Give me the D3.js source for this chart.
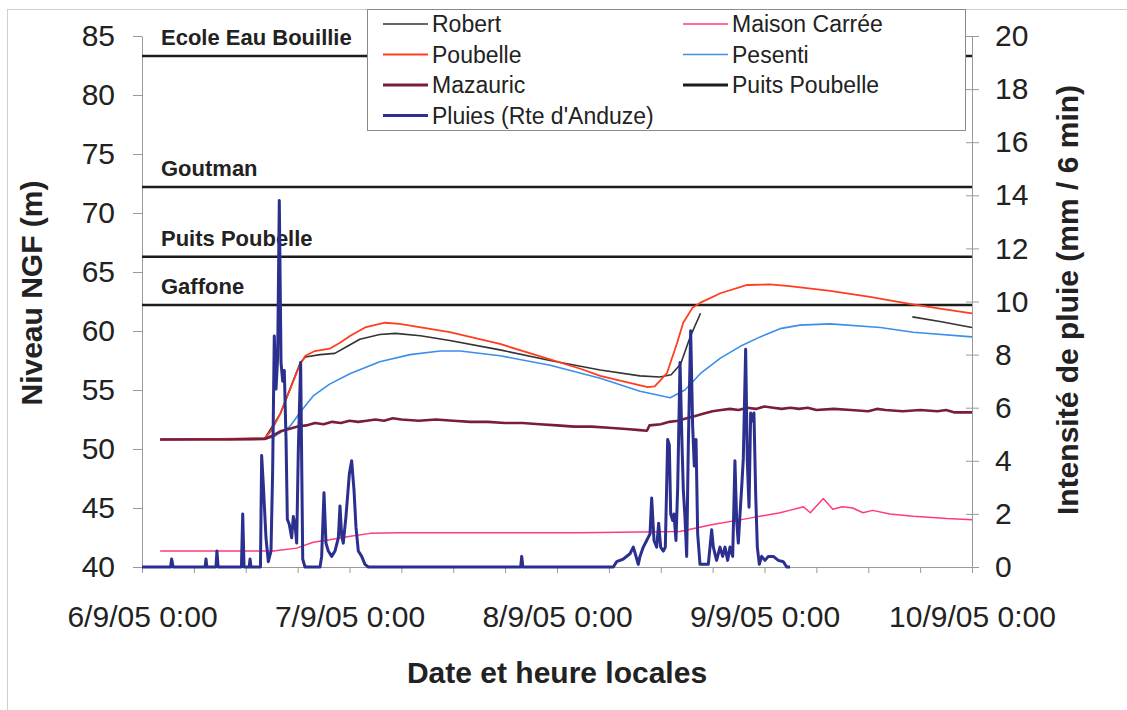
<!DOCTYPE html>
<html>
<head>
<meta charset="utf-8">
<script src="https://cdn.jsdelivr.net/npm/d3@7"></script>
<style>
	body { margin: 0; background: #fff; }
	svg { display: block; font-family: Arial, "Liberation Sans", sans-serif; }
</style>
</head>
<body>
<script>
// time is given in hours after 6/9/05 0:00
const startDate = new Date(2005, 8, 6, 0, 0);
const endDate = new Date(2005, 8, 10, 0, 0);

const leftTicks = [40, 45, 50, 55, 60, 65, 70, 75, 80, 85];
const rightTicks = [0, 2, 4, 6, 8, 10, 12, 14, 16, 18, 20];

const levelNames = ["Ecole Eau Bouillie", "Goutman", "Puits Poubelle", "Gaffone"];
const levelValues = [83.3, 72.2, 66.3, 62.2];

const robert = [
	[2.1, 50.8], [14.2, 50.9], [16, 53.0], [18.3, 57.3], [18.9, 57.8], [20.6, 58.0],
	[22.3, 58.1], [23.5, 58.6], [25.2, 59.3], [27.5, 59.7], [29.3, 59.8], [32.2, 59.6],
	[35.6, 59.2], [41.4, 58.4], [47.2, 57.5], [53, 56.7], [57.6, 56.2], [59.9, 56.1],
	[61.2, 56.3], [62.3, 57.2], [63.4, 59.5], [64.6, 61.5],
];
const robertEnd = [[89.1, 61.2], [92.3, 60.8], [96, 60.3]];

const poubelle = [
	[2.1, 50.8], [14.2, 50.9], [15, 51.6], [16, 53.0], [17.1, 55.0], [18.3, 57.2],
	[18.9, 57.9], [20, 58.3], [21.7, 58.5], [22.9, 59.0], [24.1, 59.6], [25.8, 60.3],
	[28.1, 60.7], [29.8, 60.6], [35.6, 59.9], [41.4, 58.9], [47.2, 57.6], [50.7, 56.8],
	[53, 56.2], [56.4, 55.6], [58.5, 55.25], [59.3, 55.3], [60.7, 56.4], [61.9, 59.0],
	[62.6, 60.7], [63.7, 62.0], [64.6, 62.4], [66.9, 63.2], [70, 63.9], [72.6, 63.95],
	[74.9, 63.8], [79.6, 63.4], [84.2, 62.9], [88.8, 62.3], [92.3, 61.9], [96, 61.5],
];

const mazauric = [
	[2.1, 50.8], [6, 50.8], [10, 50.8], [14.2, 50.85], [15, 51.1], [16, 51.5], [17, 51.7],
	[18, 51.9], [19, 52.0], [20, 52.2], [21, 52.1], [22, 52.3], [23, 52.2], [24, 52.4],
	[25, 52.3], [26, 52.4], [27, 52.5], [28, 52.4], [29, 52.6], [30, 52.5], [32, 52.4],
	[34, 52.5], [36, 52.4], [38, 52.3], [40, 52.3], [42, 52.2], [44, 52.2], [46, 52.1],
	[48, 52.0], [50, 51.9], [52, 51.9], [54, 51.8], [56, 51.7], [57.6, 51.6], [58.4, 51.55],
	[58.7, 52.0], [60, 52.1], [61, 52.3], [62, 52.4], [63, 52.6], [64, 52.8], [65, 53.0],
	[66, 53.2], [67, 53.3], [68, 53.4], [69, 53.3], [70, 53.5], [71, 53.4], [72, 53.6],
	[73, 53.5], [74, 53.4], [75, 53.5], [76, 53.4], [77, 53.5], [78, 53.3], [80, 53.4],
	[82, 53.3], [84, 53.2], [85, 53.4], [86, 53.3], [88, 53.2], [90, 53.3], [92, 53.2],
	[93, 53.3], [94, 53.1], [96, 53.1],
];

const maisonCarree = [
	[2.1, 41.35], [15.2, 41.35], [17.9, 41.6], [19.8, 42.1], [21.7, 42.3], [24.1, 42.6],
	[26.4, 42.85], [29.8, 42.9], [35.6, 42.9], [50.7, 42.9], [62.2, 43.0], [66, 43.6],
	[70, 44.1], [73.8, 44.6], [74.9, 44.8], [76.5, 45.1], [77.3, 44.6], [78.8, 45.8],
	[79.9, 44.9], [81, 45.1], [82.2, 45.0], [83.4, 44.6], [84.5, 44.8], [86.5, 44.5],
	[89.2, 44.3], [93.1, 44.1], [96, 44.0],
];

const pesenti = [
	[2.1, 50.8], [14.2, 50.85], [15.15, 51.0], [17.1, 51.9], [18.5, 53.3], [19.8, 54.5],
	[21.7, 55.5], [24.1, 56.4], [27.5, 57.4], [31, 58.0], [34.5, 58.3], [36.8, 58.3],
	[41.4, 57.9], [47.2, 57.1], [53, 56.0], [57.6, 54.9], [61.1, 54.35], [62.8, 55.0],
	[64.6, 56.4], [66.9, 57.7], [69.2, 58.7], [71.5, 59.5], [73.8, 60.2], [76.1, 60.5],
	[79.6, 60.6], [85.4, 60.3], [89.2, 59.9], [96, 59.5],
];

const pluies = [
	[0, 0], [3.3, 0], [3.43, 0.3], [3.6, 0], [7.3, 0], [7.4, 0.3], [7.5, 0], [8.55, 0],
	[8.67, 0.6], [8.8, 0], [11.5, 0], [11.65, 2.0], [11.8, 0], [12.4, 0], [12.5, 0.3],
	[12.6, 0], [13.7, 0], [13.84, 4.2], [14.03, 3.1], [14.34, 1.1], [14.61, 0.2],
	[14.92, 0.6], [15.11, 3.6], [15.3, 8.7], [15.5, 6.7], [15.69, 7.9], [15.88, 13.8],
	[16.08, 7.7], [16.27, 7.0], [16.46, 7.4], [16.66, 4.8], [16.81, 1.8], [17.04, 1.6],
	[17.31, 1.1], [17.5, 1.9], [17.7, 1.6], [17.89, 0.9], [18.08, 4.4], [18.35, 7.7],
	[18.59, 0.3], [18.85, 0], [20.59, 0], [20.78, 0.4], [21.05, 2.8], [21.28, 0.9],
	[21.55, 0.6], [21.94, 0.4], [22.32, 0.6], [22.71, 1.1], [22.9, 2.3], [23.09, 1.2],
	[23.28, 0.9], [23.59, 1.9], [23.98, 3.5], [24.25, 4.0], [24.52, 2.9], [24.75, 1.5],
	[25.02, 0.6], [25.41, 0.4], [25.79, 0.1], [26.18, 0], [43.8, 0], [43.92, 0.4],
	[44.05, 0], [54.51, 0], [54.9, 0.2], [55.67, 0.3], [56.44, 0.5], [56.83, 0.75],
	[57.14, 0.4], [57.4, 0.1], [57.6, 0.4], [57.98, 0.75], [58.37, 1.0], [58.76, 1.25],
	[58.95, 2.6], [59.22, 1.0], [59.53, 0.75], [59.76, 1.65], [59.99, 0.75], [60.3, 0.6],
	[60.53, 0.75], [60.8, 4.8], [60.99, 4.6], [61.15, 2.0], [61.38, 1.75], [61.53, 2.0],
	[61.76, 1.0], [61.96, 3.0], [62.23, 7.7], [62.46, 4.6], [62.61, 2.9], [62.8, 1.9],
	[63.0, 0.4], [63.19, 4.6], [63.46, 8.9], [63.69, 5.3], [63.88, 3.8], [64.08, 4.8],
	[64.27, 1.25], [64.54, 0.1], [65.5, 0.1], [65.89, 1.4], [66.08, 0.75], [66.46, 0.25],
	[66.85, 0.75], [67.16, 0.4], [67.43, 0.75], [67.74, 0.25], [68.01, 0.75], [68.32, 0.4],
	[68.58, 4.0], [68.78, 1.75], [68.97, 0.9], [69.17, 2.0], [69.36, 3.0], [69.55, 4.1],
	[69.82, 8.2], [70.01, 4.0], [70.21, 2.25], [70.4, 5.8], [70.59, 5.5], [70.78, 5.8],
	[70.98, 2.75], [71.17, 0.75], [71.4, 0.1], [71.67, 0.4], [72.06, 0.25], [72.44, 0.4],
	[73.02, 0.4], [73.6, 0.25], [74.18, 0.2], [74.57, 0], [74.95, 0],
];

const legendNames = [
	"Robert", "Poubelle", "Mazauric", "Pluies (Rte d'Anduze)",
	"Maison Carrée", "Pesenti", "Puits Poubelle",
];

render();

function render() {
	const colors = {
		robert: "#333333",
		poubelle: "#ff3d1f",
		mazauric: "#7a1d3b",
		pluies: "#2b2f8e",
		maison: "#ff3a7c",
		pesenti: "#3a8fe8",
		level: "#1c1c1c",
		axis: "#9a9a9a",
		text: "#222222",
	};
	const plot = { left: 142, right: 972, top: 36, bottom: 567 };
	const toDate = (h) => new Date(startDate.getTime() + h * 3600 * 1000);

	const svg = d3
		.select("body")
		.append("svg")
		.attr("width", 1127)
		.attr("height", 710);

	svg.append("rect")
		.attr("width", 1127)
		.attr("height", 710)
		.attr("fill", "#fff");

	// light outer frame of the chart
	svg.append("rect")
		.attr("x", 7.5)
		.attr("y", 9.5)
		.attr("width", 1300)
		.attr("height", 900)
		.attr("fill", "none")
		.attr("stroke", "#cfcfcf");

	// Scales
	const x = d3.scaleTime().domain([startDate, endDate]).range([plot.left, plot.right]);
	const yLeft = d3.scaleLinear().domain([40, 85]).range([plot.bottom, plot.top]);
	const yRight = d3.scaleLinear().domain([0, 20]).range([plot.bottom, plot.top]);

	// Axes
	const fmt = d3.timeFormat("%-d/%-m/%y %-H:%M");
	const xAxis = svg
		.append("g")
		.attr("transform", `translate(0,${plot.bottom})`)
		.call(
			d3.axisBottom(x)
				.ticks(d3.timeHour.every(6))
				.tickSize(6)
				.tickSizeOuter(0)
				.tickPadding(33)
				.tickFormat((d) => (d.getHours() === 0 ? fmt(d) : ""))
		);

	const leftAxis = svg
		.append("g")
		.attr("transform", `translate(${plot.left},0)`)
		.call(d3.axisLeft(yLeft).tickValues(leftTicks).tickSize(9).tickSizeOuter(0).tickPadding(18));

	const rightAxis = svg
		.append("g")
		.attr("transform", `translate(${plot.right},0)`)
		.call(d3.axisRight(yRight).tickValues(rightTicks).tickSize(7).tickSizeOuter(0).tickPadding(16));
	rightAxis.selectAll(".tick").append("line").attr("x2", -6);

	[xAxis, leftAxis, rightAxis].forEach((g) => {
		g.selectAll("path, line").attr("stroke", colors.axis);
		g.selectAll("text")
			.attr("fill", colors.text)
			.style("font-size", "30px")
			.style("font-family", "Arial, 'Liberation Sans', sans-serif");
	});

	// Axis titles
	const title = (txt, tx, ty, rot) =>
		svg.append("text")
			.text(txt)
			.attr("transform", `translate(${tx},${ty}) rotate(${rot})`)
			.attr("text-anchor", "middle")
			.attr("fill", colors.text)
			.style("font-size", "30px")
			.style("font-weight", "bold");
	title("Niveau NGF (m)", 42, 293, -90);
	title("Intensité de pluie (mm / 6 min)", 1078, 300, -90);
	title("Date et heure locales", 557, 683, 0);

	// Reference levels
	const levels = svg.append("g");
	levels.selectAll("line")
		.data(levelValues)
		.enter()
		.append("line")
		.attr("x1", plot.left)
		.attr("x2", plot.right)
		.attr("y1", (d) => yLeft(d))
		.attr("y2", (d) => yLeft(d))
		.attr("stroke", colors.level)
		.attr("stroke-width", 2.5);
	levels.selectAll("text")
		.data(levelNames)
		.enter()
		.append("text")
		.text((d) => d)
		.attr("x", 161)
		.attr("y", (d, i) => yLeft(levelValues[i]) - 11)
		.attr("fill", colors.text)
		.style("font-size", "22px")
		.style("font-weight", "bold");

	// Series
	const lineLeft = d3.line().x((d) => x(toDate(d[0]))).y((d) => yLeft(d[1]));
	const lineRight = d3.line().x((d) => x(toDate(d[0]))).y((d) => yRight(d[1]));

	const series = [
		{ data: pesenti, color: colors.pesenti, w: 1.6 },
		{ data: robert, color: colors.robert, w: 1.6 },
		{ data: robertEnd, color: colors.robert, w: 1.6 },
		{ data: poubelle, color: colors.poubelle, w: 1.8 },
		{ data: mazauric, color: colors.mazauric, w: 2.6 },
		{ data: maisonCarree, color: colors.maison, w: 1.5 },
	];
	svg.append("g")
		.selectAll("path")
		.data(series)
		.enter()
		.append("path")
		.attr("d", (d) => lineLeft(d.data))
		.attr("fill", "none")
		.attr("stroke", (d) => d.color)
		.attr("stroke-width", (d) => d.w)
		.attr("stroke-linejoin", "round");

	svg.append("path")
		.attr("d", lineRight(pluies))
		.attr("fill", "none")
		.attr("stroke", colors.pluies)
		.attr("stroke-width", 3)
		.attr("stroke-linejoin", "round");

	// Legend
	const legendColors = [
		colors.robert, colors.poubelle, colors.mazauric, colors.pluies,
		colors.maison, colors.pesenti, colors.level,
	];
	const legendWidths = [1.6, 1.8, 2.8, 3, 1.5, 1.6, 2.8];
	const legend = svg.append("g");
	legend.append("rect")
		.attr("x", 367.5)
		.attr("y", 9.5)
		.attr("width", 598)
		.attr("height", 121)
		.attr("fill", "#fff")
		.attr("stroke", "#8a8a8a");
	const items = legend
		.selectAll("g")
		.data(legendNames)
		.enter()
		.append("g")
		.attr("transform", (d, i) =>
			`translate(${i < 4 ? 383 : 683},${24 + (i % 4) * 30.5})`
		);
	items.append("line")
		.attr("x1", 0)
		.attr("x2", 45)
		.attr("stroke", (d, i) => legendColors[i])
		.attr("stroke-width", (d, i) => legendWidths[i]);
	items.append("text")
		.text((d) => d)
		.attr("x", 49)
		.attr("dy", "0.35em")
		.attr("fill", colors.text)
		.style("font-size", "23px");
}
</script>
</body>
</html>
